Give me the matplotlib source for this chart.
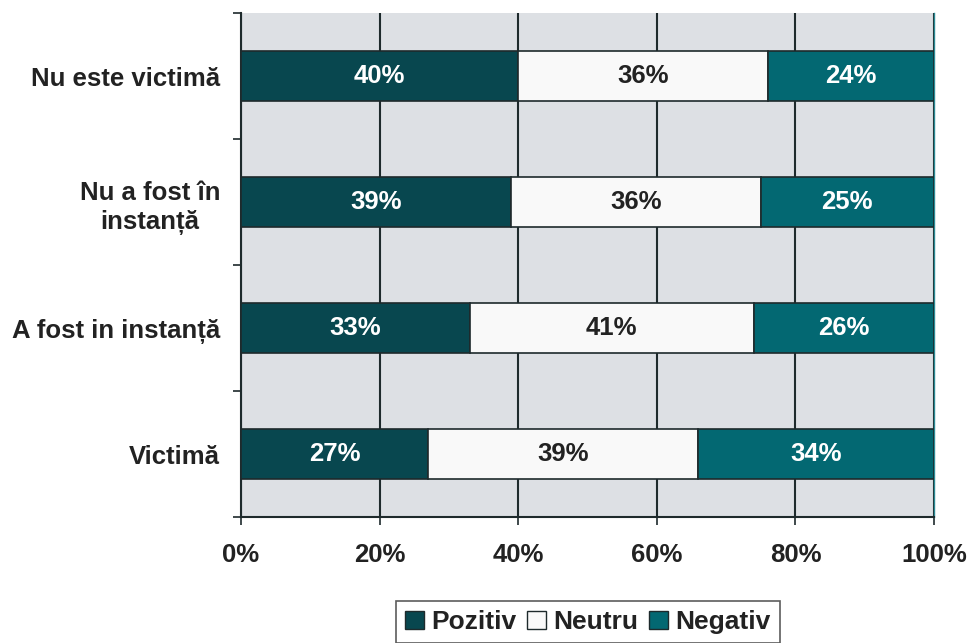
import matplotlib
matplotlib.use("Agg")
import matplotlib.pyplot as plt
import numpy as np
from matplotlib.patches import Patch

plt.rcParams['font.family'] = ['Liberation Sans', 'DejaVu Sans']

categories = ["Victimă", "A fost in instanță", "Nu a fost în\ninstanță", "Nu este victimă"]
pozitiv = [27, 33, 39, 40]
neutru = [39, 41, 36, 36]
negativ = [34, 26, 25, 24]
series_names = ["Pozitiv", "Neutru", "Negativ"]
xticks = [0, 20, 40, 60, 80, 100]

colors = ["#08474F", "#F9F9F9", "#036872"]
edge = "#1E2A2C"
textcol = "#222222"

fig = plt.figure(figsize=(9.7, 6.43), dpi=100)
ax = fig.add_axes([241/970, 1-517/643, (934-241)/970, (517-13)/643])
ax.set_facecolor("#DDE0E4")

y = np.arange(len(categories))
left = np.zeros(len(categories))
for vals, col, name in zip([pozitiv, neutru, negativ], colors, series_names):
    vals = np.array(vals, dtype=float)
    bars = ax.barh(y, vals, left=left, height=0.4, color=col, edgecolor=edge, linewidth=1.2, zorder=3, label=name)
    for b, v in zip(bars, vals):
        ax.text(b.get_x() + b.get_width()/2, b.get_y() + b.get_height()/2, f"{int(v)}%",
                ha='center', va='center', color='white' if col != "#F9F9F9" else textcol,
                fontsize=18.5, fontweight='bold', zorder=4)
    left += vals

ax.set_xlim(0, 100)
ax.set_ylim(-0.5, len(categories) - 0.5)
ax.set_xticks(xticks)
ax.set_xticklabels([f"{t}%" for t in xticks], fontsize=18.5, fontweight='bold', color=textcol)
ax.set_yticks(y)
ax.set_yticklabels(categories, fontsize=18.5, fontweight='bold', color=textcol, ha='right',
                   multialignment='center', linespacing=1.3)
ax.tick_params(axis='y', length=0, pad=15)
ax.set_yticks(np.arange(-0.5, len(categories), 1), minor=True)
ax.tick_params(axis='y', which='minor', length=6, width=1.2, color=edge)
ax.tick_params(axis='x', length=6, width=1.2, color=edge, pad=13)
ax.xaxis.grid(True, color="#1E2A2C", linewidth=1.5, zorder=1)
ax.set_axisbelow(True)
ax.spines['top'].set_visible(False)
ax.spines['right'].set_color("#2a8a94")
ax.spines['right'].set_linewidth(1.0)
ax.spines['left'].set_color(edge)
ax.spines['left'].set_linewidth(1.5)
ax.spines['bottom'].set_color(edge)
ax.spines['bottom'].set_linewidth(1.5)

handles = [Patch(facecolor=c, edgecolor=edge, label=n) for c, n in zip(colors, series_names)]
leg = fig.legend(handles=handles, loc='upper center', bbox_to_anchor=(588/970, 1-601/643), ncol=3,
                 frameon=True, fancybox=False, edgecolor="#333333", handlelength=0.7, handleheight=0.7,
                 handletextpad=0.3, columnspacing=0.4, borderpad=0.35, borderaxespad=0,
                 prop={'size': 19, 'weight': 'bold'})
leg.get_frame().set_linewidth(1.2)
for t in leg.get_texts():
    t.set_color(textcol)

fig.savefig("out.png", dpi=100)
